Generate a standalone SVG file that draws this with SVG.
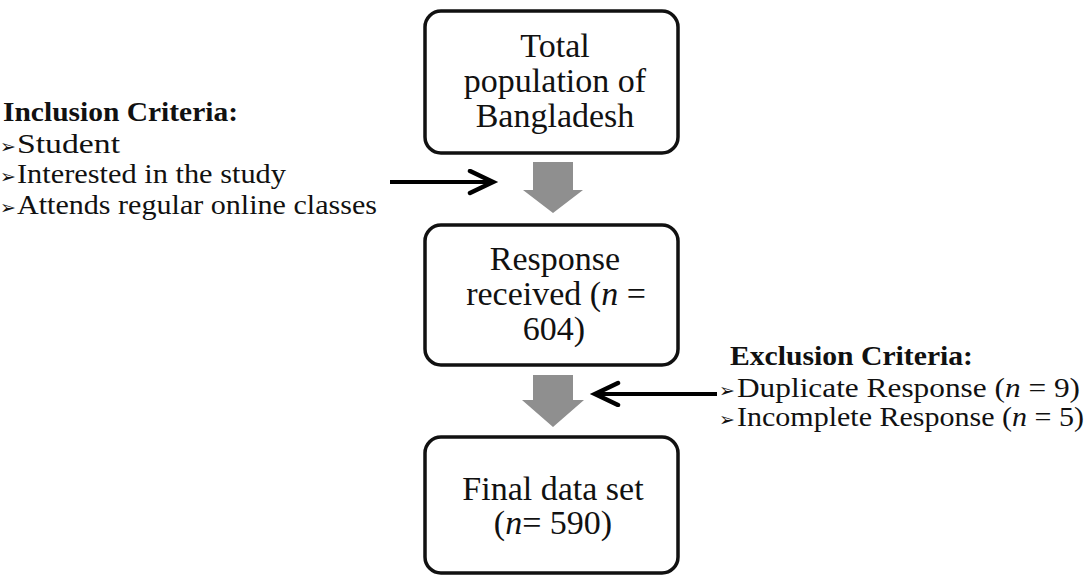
<svg xmlns="http://www.w3.org/2000/svg" width="1085" height="578" viewBox="0 0 1085 578">
  <style>
    .box { fill: #ffffff; stroke: #111111; stroke-width: 3.5; }
    .btxt { font-family: "Liberation Serif", "Times New Roman", serif; font-size: 34px; fill: #111111; text-anchor: middle; }
    .stxt { font-family: "Liberation Serif", "Times New Roman", serif; font-size: 28px; fill: #111111; }
    .bold { font-weight: bold; }
    .it { font-style: italic; }
    .arr { font-family: "DejaVu Sans", sans-serif; font-size: 19px; fill: #111111; }
    .flow { fill: #8f8f8f; stroke: none; }
    .conn { fill: none; stroke: #000000; stroke-width: 4; }
  </style>
  <defs>
    <marker id="chev" markerUnits="userSpaceOnUse" markerWidth="34" markerHeight="34" refX="26" refY="13" orient="auto">
      <path d="M3,2 L26,13 L3,24" fill="none" stroke="#000000" stroke-width="4.5" stroke-linejoin="miter" stroke-linecap="round"/>
    </marker>
  </defs>
  <rect width="1085" height="578" fill="#ffffff"/>

  <g id="node-total">
    <rect class="box" x="425" y="11" width="253" height="142" rx="16"/>
    <text class="btxt" x="555" y="57">Total</text>
    <text class="btxt" x="555" y="92">population of</text>
    <text class="btxt" x="555" y="127">Bangladesh</text>
  </g>

  <g id="node-response">
    <rect class="box" x="425" y="225" width="253" height="140" rx="16"/>
    <text class="btxt" x="555" y="270">Response</text>
    <text class="btxt" x="556" y="305">received (<tspan class="it">n</tspan> =</text>
    <text class="btxt" x="554" y="340">604)</text>
  </g>

  <g id="node-final">
    <rect class="box" x="425" y="437" width="253" height="136" rx="16"/>
    <text class="btxt" x="553" y="500">Final data set</text>
    <text class="btxt" x="553" y="534">(<tspan class="it">n</tspan>= 590)</text>
  </g>

  <g id="inclusion-criteria">
    <text class="stxt bold" x="3" y="121" textLength="235" lengthAdjust="spacingAndGlyphs">Inclusion Criteria:</text>
    <text y="153"><tspan class="arr" x="0">➢</tspan><tspan class="stxt" x="17" textLength="103" lengthAdjust="spacingAndGlyphs">Student</tspan></text>
    <text y="183"><tspan class="arr" x="0">➢</tspan><tspan class="stxt" x="17" textLength="269" lengthAdjust="spacingAndGlyphs">Interested in the study</tspan></text>
    <text y="214"><tspan class="arr" x="0">➢</tspan><tspan class="stxt" x="17" textLength="360" lengthAdjust="spacingAndGlyphs">Attends regular online classes</tspan></text>
  </g>

  <g id="exclusion-criteria">
    <text class="stxt bold" x="730" y="365" textLength="243" lengthAdjust="spacingAndGlyphs">Exclusion Criteria:</text>
    <text y="397"><tspan class="arr" x="719">➢</tspan><tspan class="stxt" x="737" textLength="343" lengthAdjust="spacingAndGlyphs">Duplicate Response (<tspan class="it">n</tspan> = 9)</tspan></text>
    <text y="426"><tspan class="arr" x="719">➢</tspan><tspan class="stxt" x="737" textLength="347" lengthAdjust="spacingAndGlyphs">Incomplete Response (<tspan class="it">n</tspan> = 5)</tspan></text>
  </g>

  <g id="connectors">
    <path class="flow" d="M533,162 H573 V190 H583 L553,213 L523,190 H533 Z"/>
    <path class="flow" d="M533,375 H573 V400 H584 L553,427 L522,400 H533 Z"/>
    <line class="conn" x1="390" y1="182" x2="493" y2="182" marker-end="url(#chev)"/>
    <line class="conn" x1="717" y1="394" x2="595" y2="394" marker-end="url(#chev)"/>
  </g>
</svg>
